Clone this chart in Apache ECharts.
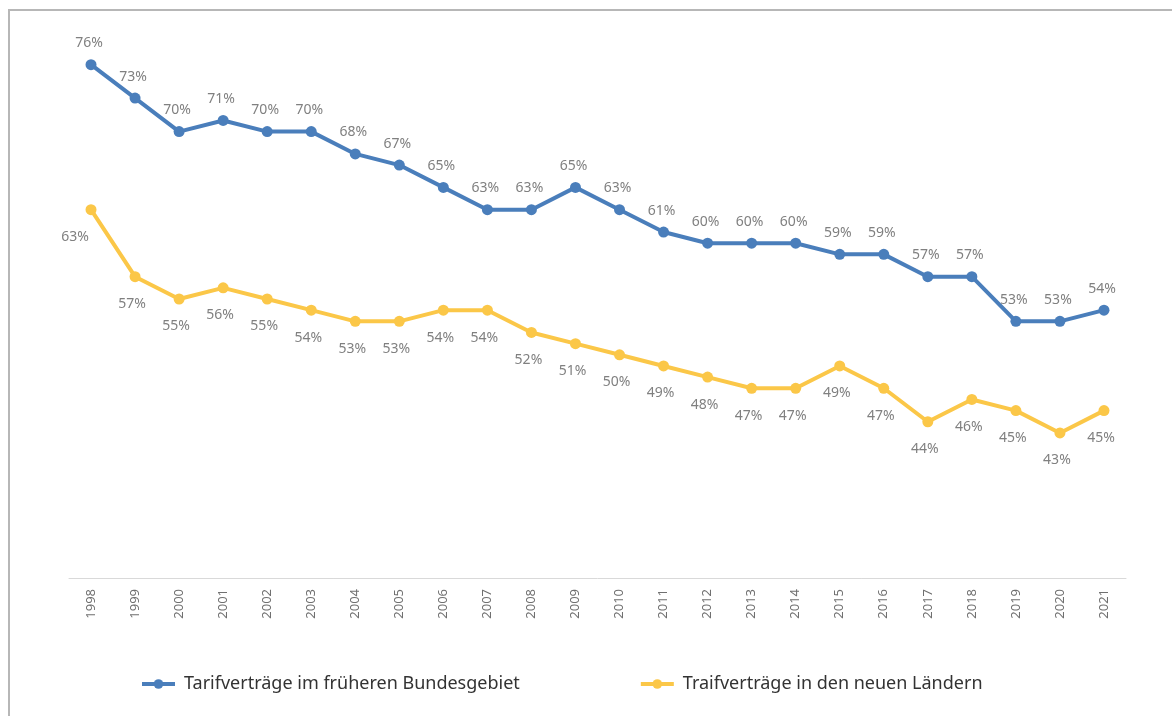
<!DOCTYPE html>
<html>
<head>
<meta charset="utf-8">
<script src="https://cdn.jsdelivr.net/npm/echarts@6/dist/echarts.min.js"></script>
<style>
  html, body { margin: 0; padding: 0; background: #fff; }
  #chart { width: 1172px; height: 716px; }
</style>
</head>
<body>
<div id="chart"></div>
<script>
const years = ['1998', '1999', '2000', '2001', '2002', '2003', '2004', '2005', '2006', '2007', '2008', '2009',
  '2010', '2011', '2012', '2013', '2014', '2015', '2016', '2017', '2018', '2019', '2020', '2021'];
const westValues = [76, 73, 70, 71, 70, 70, 68, 67, 65, 63, 63, 65, 63, 61, 60, 60, 60, 59, 59, 57, 57, 53, 53, 54];
const eastValues = [63, 57, 55, 56, 55, 54, 53, 53, 54, 54, 52, 51, 50, 49, 48, 47, 47, 49, 47, 44, 46, 45, 43, 45];
const westName = 'Tarifverträge im früheren Bundesgebiet';
const eastName = 'Traifverträge in den neuen Ländern';

const font = '"Noto Sans", sans-serif';

const getOption = () => {
  return {
    animation: false,
    textStyle: { fontFamily: font },
    graphic: [
      {
        type: 'rect',
        shape: { x: 9, y: 10, width: 1400, height: 900 },
        style: { fill: 'none', stroke: '#b7b7b7', lineWidth: 2 },
        silent: true
      }
    ],
    grid: { left: 69, right: 46, top: 20, bottom: 138 },
    legend: {
      left: 135,
      top: 670,
      itemWidth: 33,
      itemHeight: 12,
      itemGap: 119,
      lineStyle: { width: 4 },
      textStyle: { fontSize: 18, color: '#333333', fontFamily: font, padding: [0, 0, 0, 4] },
      data: [westName, eastName]
    },
    xAxis: {
      type: 'category',
      data: years,
      boundaryGap: true,
      axisLine: { lineStyle: { color: '#d9d9d9', width: 1 } },
      axisTick: { show: false },
      axisLabel: { rotate: 90, fontSize: 13, color: '#707070', margin: 11, fontFamily: font }
    },
    yAxis: {
      type: 'value',
      min: 30,
      max: 80,
      show: false,
      splitLine: { show: false }
    },
    series: [
      {
        name: westName,
        type: 'line',
        data: westValues,
        symbol: 'circle',
        symbolSize: 11,
        color: '#4a7ebb',
        lineStyle: { width: 4, color: '#4a7ebb' },
        label: {
          show: true,
          position: 'top',
          distance: 9,
          offset: [-2, 0],
          formatter: '{c}%',
          fontSize: 14,
          color: '#808080',
          fontFamily: font
        }
      },
      {
        name: eastName,
        type: 'line',
        data: eastValues.map((v, i) => i === 0 ? { value: v, label: { offset: [-16, 0] } } : v),
        symbol: 'circle',
        symbolSize: 11,
        color: '#fbc748',
        lineStyle: { width: 4, color: '#fbc748' },
        label: {
          show: true,
          position: 'bottom',
          distance: 15,
          offset: [-3, 0],
          formatter: '{c}%',
          fontSize: 14,
          color: '#808080',
          fontFamily: font
        }
      }
    ]
  };
};

const initChart = () => {
  const chart = echarts.init(document.getElementById('chart'));
  chart.setOption(getOption());
};

window.addEventListener('load', () => {
  initChart();
});
</script>
</body>
</html>
